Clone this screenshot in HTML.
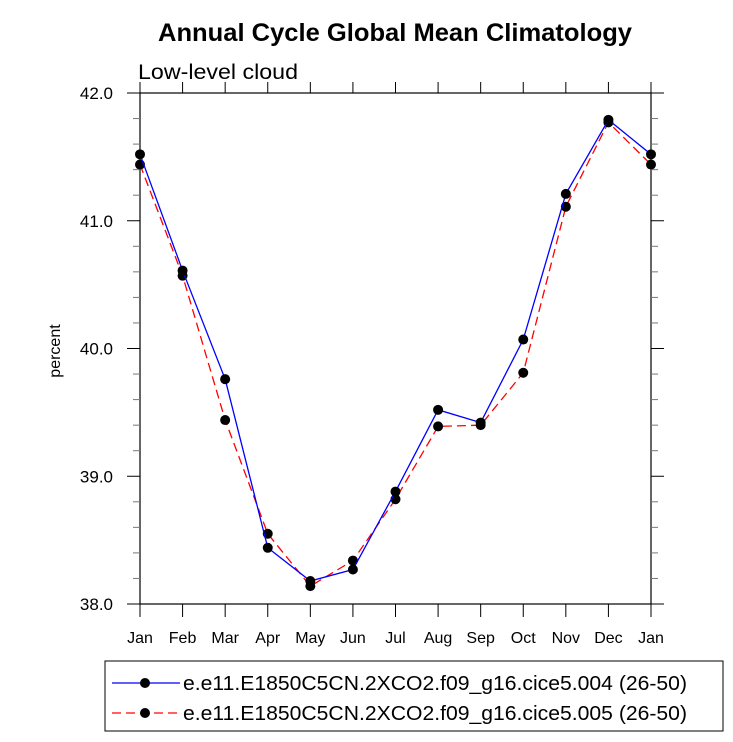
<!DOCTYPE html>
<html><head><meta charset="utf-8"><style>
html,body{margin:0;padding:0;background:#fff;}
svg text{font-family:"Liberation Sans",sans-serif;}
</style></head><body>
<svg id="chart" width="733" height="737" xmlns="http://www.w3.org/2000/svg">
<text x="395" y="41" text-anchor="middle" font-size="25" font-weight="bold" textLength="474" lengthAdjust="spacingAndGlyphs">Annual Cycle Global Mean Climatology</text>
<text x="138" y="79" font-size="21" textLength="160" lengthAdjust="spacingAndGlyphs">Low-level cloud</text>
<text x="0" y="0" font-size="16" text-anchor="middle" transform="translate(60,351) rotate(-90)">percent</text>
<g id="axes"></g>
<g id="series"></g>
<rect x="105" y="661" width="618" height="70" fill="none" stroke="#000" stroke-width="1"/>
<g>
<line x1="112" y1="683" x2="180" y2="683" stroke="#00f" stroke-width="1.3"/>
<circle cx="145" cy="683" r="5" fill="#000"/>
<text x="183" y="690" font-size="20" textLength="504" lengthAdjust="spacingAndGlyphs">e.e11.E1850C5CN.2XCO2.f09_g16.cice5.004 (26-50)</text>
</g>
<g>
<line x1="112" y1="713" x2="180" y2="713" stroke="#f00" stroke-width="1.3" stroke-dasharray="9,5"/>
<circle cx="145" cy="713" r="5" fill="#000"/>
<text x="183" y="720" font-size="20" textLength="504" lengthAdjust="spacingAndGlyphs">e.e11.E1850C5CN.2XCO2.f09_g16.cice5.005 (26-50)</text>
</g>
</svg>
<script>
const months = ["Jan","Feb","Mar","Apr","May","Jun","Jul","Aug","Sep","Oct","Nov","Dec","Jan"];
const series004 = [41.52,40.61,39.76,38.44,38.18,38.27,38.88,39.52,39.42,40.07,41.21,41.79,41.52];
const series005 = [41.44,40.57,39.44,38.55,38.14,38.34,38.82,39.39,39.40,39.81,41.11,41.77,41.44];
const yTicks = [38,39,40,41,42];
const yTickLabels = ["38.0","39.0","40.0","41.0","42.0"];

const L=140,R=651,T=93,B=604,ymin=38,ymax=42;
const xs=i=>L+(R-L)*i/(months.length-1);
const ys=v=>B-(v-ymin)/(ymax-ymin)*(B-T);
const NS="http://www.w3.org/2000/svg";
function mk(tag,attrs,parent){const e=document.createElementNS(NS,tag);for(const k in attrs)e.setAttribute(k,attrs[k]);parent.appendChild(e);return e;}
const ax=document.getElementById('axes');
const frame=mk('rect',{x:L,y:T,width:R-L,height:B-T,fill:'none',stroke:'#000','stroke-width':1.2},ax);


for(let v=ymin;v<=ymax+1e-6;v+=0.2){
  const major=Math.abs(v-Math.round(v))<1e-6;const y=ys(v);const len=major?13:7;
  const c=major?'#000':'#777';
  mk('line',{x1:L-len,y1:y,x2:L,y2:y,stroke:c,'stroke-width':1},ax);
  mk('line',{x1:R,y1:y,x2:R+len,y2:y,stroke:c,'stroke-width':1},ax);
}
yTicks.forEach((v,i)=>{
  const t=mk('text',{x:113,y:ys(v)+6,'font-size':17,'text-anchor':'end'},ax);
  t.textContent=yTickLabels[i];
  
  
});
months.forEach((m,i)=>{
  const x=xs(i);
  mk('line',{x1:x,y1:B,x2:x,y2:B+13,stroke:'#000','stroke-width':1},ax);
  mk('line',{x1:x,y1:T-11,x2:x,y2:T,stroke:'#000','stroke-width':1},ax);
  const t=mk('text',{x:x,y:B+39,'font-size':16,'text-anchor':'middle'},ax);
  t.textContent=m;
  
  
});
const sg=document.getElementById('series');
function draw(vals,color,dash,name){
  const pts=vals.map((v,i)=>xs(i)+','+ys(v)).join(' ');
  const pl=mk('polyline',{points:pts,fill:'none',stroke:color,'stroke-width':1.3},sg);
  if(dash)pl.setAttribute('stroke-dasharray',dash);
  
  
  vals.forEach((v,i)=>{
    const c=mk('circle',{cx:xs(i),cy:ys(v),r:5,fill:'#000'},sg);
    
    
  });
}
draw(series005,'#f00','9,5','series-005');
draw(series004,'#00f',null,'series-004');
</script>
</body></html>
